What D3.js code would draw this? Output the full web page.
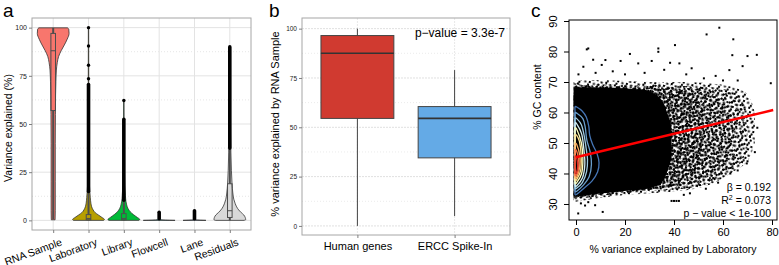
<!DOCTYPE html>
<html>
<head>
<meta charset="utf-8">
<script src="https://cdn.jsdelivr.net/npm/d3@7"></script>
<style>
  body { margin: 0; background: #fff; }
  svg { display: block; font-family: "Liberation Sans", Arial, sans-serif; }
</style>
</head>
<body>
<svg width="779" height="265"></svg>
<script>
// ---------- panel a : violins ----------
const violinCats = ["RNA Sample", "Laboratory", "Library", "Flowcell", "Lane", "Residuals"];
const violinFill = ["#f8766d", "#b79f00", "#00ba38", "#00bfc4", "#619cff", "#d9d9d9"];
// density profile per category: [value, relative half width]
const violinRNA = [[0.3, 0.12], [5, 0.13], [20, 0.13], [40, 0.13], [55, 0.14], [65, 0.15], [72, 0.17], [78, 0.2], [82, 0.26], [85, 0.34], [88, 0.5], [91, 0.7], [94, 0.88], [97, 1.0], [99.2, 0.98], [99.9, 0.9]];
const violinLab = [[0, 0.95], [0.5, 1.0], [1.5, 0.85], [2.8, 0.62], [4, 0.42], [5.4, 0.29], [7, 0.2], [8.9, 0.15], [12, 0.11], [14.2, 0.09], [18, 0.06], [25, 0.04], [35, 0.03], [50, 0.02], [70, 0.015], [100, 0.01]];
const violinLib = [[0, 0.95], [0.5, 1.0], [1.5, 0.85], [3, 0.6], [4.5, 0.4], [6, 0.27], [8, 0.18], [10, 0.13], [13, 0.1], [18, 0.06], [25, 0.04], [35, 0.025], [50, 0.015], [62.2, 0.01]];
const violinFlow = [[0, 1.0], [0.15, 0.4], [0.5, 0.03], [4.2, 0.02]];
const violinLane = [[0, 0.72], [0.15, 0.3], [0.5, 0.03], [5, 0.02]];
const violinRes = [[0, 0.9], [0.4, 1.0], [1.5, 0.97], [2.8, 0.88], [4, 0.72], [5.4, 0.56], [7, 0.43], [8.9, 0.33], [11, 0.25], [14.2, 0.19], [19, 0.14], [26, 0.1], [35, 0.07], [45, 0.05], [60, 0.04], [75, 0.03], [90, 0.02]];
const violinProfiles = [violinRNA, violinLab, violinLib, violinFlow, violinLane, violinRes];

// inner boxplots
const violinBoxLo = [0.5, 0, 0, 0, 0, 0];
const violinBoxQ1 = [57, 0.3, 0.3, 0, 0, 1.5];
const violinBoxMed = [88, 1, 1, 0, 0, 5];
const violinBoxQ3 = [97, 3, 3.5, 0, 0, 19];
const violinBoxHi = [99.9, 15, 10.5, 0, 0, 37.5];
// dense runs of outlier dots [from, to] and single outliers
const outlierRuns = [[], [[15, 70.5]], [[10.5, 52.5]], [[0.8, 4.2]], [[0.8, 5]], [[37.5, 90]]];
const outlierDots = [[], [73.5, 80.5, 90.5, 100], [62.2], [], [], []];
const violinTicks = [0, 25, 50, 75, 100];

// ---------- panel b : boxplots ----------
const boxCats = ["Human genes", "ERCC Spike-In"];
const boxLo = [0, 5];
const boxQ1 = [54.5, 34.5];
const boxMed = [87.5, 54.5];
const boxQ3 = [96.5, 60.5];
const boxHi = [100, 79];
const boxFill = ["#d03a30", "#64aae6"];
const boxTicks = [0, 25, 50, 75, 100];

// ---------- panel c : scatter ----------
// nested outlines of the point cloud (x, lower y, upper y), widest first
const cloud1X = [-1, 15, 30, 45, 55, 63, 70, 73];
const cloud1Low = [30.5, 32.5, 33.5, 34.5, 36.5, 40, 44, 50];
const cloud1High = [70.5, 70.5, 70, 70, 69.5, 68.5, 66, 60];
const cloud2X = [-1, 20, 35, 48, 58, 66, 70];
const cloud2Low = [31.5, 33.5, 34.5, 35.5, 38, 42, 48];
const cloud2High = [69.5, 69, 69, 68.5, 68, 66, 60];
const cloud3X = [-1, 20, 35, 45, 53, 60, 64];
const cloud3Low = [32, 34, 35, 36, 38.5, 42, 47];
const cloud3High = [69, 68.5, 68.5, 68, 67, 64, 58];
const cloud4X = [-1, 20, 32, 40, 47, 52];
const cloud4Low = [32, 34, 35, 36, 38.5, 43];
const cloud4High = [68.8, 68.3, 68, 67.5, 66, 61];
const coreX = [-1, 12, 22, 30, 35, 39];
const coreLow = [32.3, 33.6, 34.4, 35.2, 37, 45];
const coreHigh = [68.3, 68.2, 67.8, 67, 64, 55];
// isolated points
const strayPoints = [[0.7, 24.2], [0.9, 26.9], [3.7, 29.5], [10.9, 27.4], [7.8, 29.6], [2, 30.2], [5, 30.6], [39, 31], [40, 31], [41, 31], [42, 31],
  [4.4, 80.7], [5, 81], [53.3, 85.6], [58.5, 87.8], [64.2, 84], [63.8, 78.8], [70, 78.5], [40.4, 82.1], [33.6, 81], [33.6, 79.9], [22, 79.2],
  [12, 77.2], [7, 77.3], [18.2, 76.9], [30.9, 76.9], [38.4, 76.3], [42.2, 76.1], [47.2, 74.5], [52.2, 71.2], [62.6, 73.9], [68, 75.2],
  [73.8, 78.9], [79.5, 69.6], [3, 75], [10.5, 75.6], [25.4, 76.1], [69.7, 43.3], [64.2, 45.5], [61.5, 42.2], [50.6, 36.2], [46.5, 33.5],
  [73, 47], [71, 52], [66, 41], [56, 38.5], [44, 33], [15, 73.5], [28, 73], [36, 74], [45, 72.5], [57, 72], [20, 72.5], [8, 73], [1, 72.5],
  [60, 70.5], [66, 70.5], [72, 57], [74, 55], [70, 44], [63, 40], [58, 37], [53, 35]];
// density contours near x = 0: [y, right edge x]
const contourLevels = [
  [[33.2, 0.3], [35, 3], [37.5, 6.5], [40.5, 8.8], [43.5, 9.4], [46.5, 8.6], [49.5, 6.8], [52.5, 5.6], [55.5, 5.2], [58.5, 4.2], [60.5, 2.5], [61.8, 0.3]],
  [[34.2, 0.3], [36, 2.8], [39, 5.4], [43, 6.3], [47, 5.8], [51, 4.4], [55, 3.8], [58, 2.8], [59.8, 0.3]],
  [[35.2, 0.3], [37, 2.6], [40.5, 4.3], [44.5, 4.7], [48.5, 4.1], [52.5, 3.3], [56, 2.2], [58, 0.3]],
  [[36, 0.3], [38.5, 2.6], [43, 3.6], [48, 3.2], [53, 2.3], [56.3, 0.3]],
  [[37, 0.3], [40, 2.3], [45, 2.8], [50, 2.2], [54.5, 0.3]],
  [[38, 0.3], [41, 1.9], [46, 2.1], [50.5, 1.4], [52.5, 0.3]],
  [[38.8, 0.3], [42, 1.5], [46, 1.5], [49.5, 0.3]],
  [[39.5, 0.2], [42, 1.1], [45, 1], [47.5, 0.2]],
  [[40.2, 0.15], [42.5, 0.7], [45.5, 0.15]]
];
const contourColors = ["#4575b4", "#6a9fcd", "#9ecae1", "#d1ecf1", "#ffffbf", "#fee090", "#fdae61", "#f46d43", "#d73027"];
const fitX = [0, 80.5];
const fitY = [45.3, 60.8];
const scatterXTicks = [0, 20, 40, 60, 80];
const scatterYTicks = [30, 40, 50, 60, 70, 80, 90];

const svg = d3.select("svg");

// panel letters
svg.selectAll("text.letter")
  .data([["a", 3], ["b", 269], ["c", 531]])
  .join("text")
  .attr("class", "letter")
  .attr("x", d => d[1]).attr("y", 17)
  .attr("font-size", 19)
  .text(d => d[0]);

// ================= panel a =================
const aX = d3.scalePoint().domain(violinCats).range([32, 251]).padding(0.6);
const aY = d3.scaleLinear().domain([-5, 105]).range([230, 18]);
const gA = svg.append("g");
const halfW = aX.step() * 0.45;

// grid
const aMinor = violinTicks.slice(1).map((t, i) => (t + violinTicks[i]) / 2);
gA.selectAll(".minor").data(aMinor).join("line")
  .attr("x1", 32).attr("x2", 251)
  .attr("y1", d => aY(d)).attr("y2", d => aY(d))
  .attr("stroke", "#e6e6e6").attr("stroke-dasharray", "1,2");
gA.selectAll(".major").data(violinTicks).join("line")
  .attr("x1", 32).attr("x2", 251)
  .attr("y1", d => aY(d)).attr("y2", d => aY(d))
  .attr("stroke", "#e3e3e3");
gA.selectAll(".vgrid").data(violinCats).join("line")
  .attr("x1", d => aX(d)).attr("x2", d => aX(d))
  .attr("y1", 18).attr("y2", 230)
  .attr("stroke", "#e3e3e3");

// violins
violinCats.forEach((c, i) => {
  const cx = aX(c);
  const area = d3.area()
    .y(d => aY(d[0]))
    .x0(d => cx - halfW * d[1])
    .x1(d => cx + halfW * d[1])
    .curve(d3.curveMonotoneY);
  gA.append("path")
    .datum(violinProfiles[i])
    .attr("d", area)
    .attr("fill", violinFill[i])
    .attr("stroke", "#333").attr("stroke-width", 0.8);
});

// inner boxplots
const bw = aX.step() * 0.13;
violinCats.forEach((c, i) => {
  const cx = aX(c);
  if (violinBoxHi[i] === violinBoxLo[i]) return;
  gA.append("line").attr("x1", cx).attr("x2", cx)
    .attr("y1", aY(violinBoxLo[i])).attr("y2", aY(violinBoxQ1[i]))
    .attr("stroke", "#4d4d4d").attr("stroke-width", 2);
  gA.append("line").attr("x1", cx).attr("x2", cx)
    .attr("y1", aY(violinBoxQ3[i])).attr("y2", aY(violinBoxHi[i]))
    .attr("stroke", "#4d4d4d").attr("stroke-width", 2);
  gA.append("rect")
    .attr("x", cx - bw / 2).attr("width", bw)
    .attr("y", aY(violinBoxQ3[i])).attr("height", aY(violinBoxQ1[i]) - aY(violinBoxQ3[i]))
    .attr("fill", "none").attr("stroke", "#4d4d4d").attr("stroke-width", 1);
  gA.append("line").attr("x1", cx - bw / 2).attr("x2", cx + bw / 2)
    .attr("y1", aY(violinBoxMed[i])).attr("y2", aY(violinBoxMed[i]))
    .attr("stroke", "#4d4d4d").attr("stroke-width", 1);
});

// outliers
violinCats.forEach((c, i) => {
  const cx = aX(c);
  outlierRuns[i].forEach(r => {
    gA.append("line").attr("x1", cx).attr("x2", cx)
      .attr("y1", aY(r[0])).attr("y2", aY(r[1]))
      .attr("stroke", "#000").attr("stroke-width", 3.6).attr("stroke-linecap", "round");
  });
  gA.selectAll(null).data(outlierDots[i]).join("circle")
    .attr("cx", cx).attr("cy", d => aY(d)).attr("r", 1.7).attr("fill", "#000");
});

gA.append("rect").attr("x", 32).attr("y", 18).attr("width", 219).attr("height", 212)
  .attr("fill", "none").attr("stroke", "#a6a6a6");

// axes
const aAxisL = gA.append("g").attr("transform", "translate(32,0)")
  .call(d3.axisLeft(aY).tickValues(violinTicks).tickSize(3).tickPadding(2));
const aAxisB = gA.append("g").attr("transform", "translate(0,230)")
  .call(d3.axisBottom(aX).tickSize(3));
[aAxisL, aAxisB].forEach(g => {
  g.select(".domain").remove();
  g.selectAll("line").attr("stroke", "#7f7f7f");
});
aAxisL.selectAll("text").attr("font-size", 7).attr("fill", "#222");
aAxisB.selectAll("text")
  .attr("font-size", 10.5).attr("fill", "#000")
  .attr("text-anchor", "end")
  .attr("x", 0).attr("y", 0).attr("dy", 0)
  .attr("transform", "translate(9,15) rotate(-20)");
gA.append("text")
  .attr("transform", "translate(12,128) rotate(-90)")
  .attr("text-anchor", "middle").attr("font-size", 10.5)
  .text("Variance explained (%)");

// ================= panel b =================
const bX = d3.scalePoint().domain(boxCats).range([302, 510]).padding(0.57);
const bY = d3.scaleLinear().domain([-4.6, 105.4]).range([235, 18]);
const gB = svg.append("g");
const bMinor = boxTicks.slice(1).map((t, i) => (t + boxTicks[i]) / 2);

gB.selectAll(".minor").data(bMinor).join("line")
  .attr("x1", 302).attr("x2", 510)
  .attr("y1", d => bY(d)).attr("y2", d => bY(d))
  .attr("stroke", "#ebebeb").attr("stroke-dasharray", "1,2");
gB.selectAll(".major").data(boxTicks).join("line")
  .attr("x1", 302).attr("x2", 510)
  .attr("y1", d => bY(d)).attr("y2", d => bY(d))
  .attr("stroke", "#e0e0e0").attr("stroke-dasharray", "2,1");
gB.selectAll(".vgrid").data(boxCats).join("line")
  .attr("x1", d => bX(d)).attr("x2", d => bX(d))
  .attr("y1", 18).attr("y2", 235)
  .attr("stroke", "#e8e8e8").attr("stroke-dasharray", "2,1");

const boxW = bX.step() * 0.75;
boxCats.forEach((c, i) => {
  const cx = bX(c);
  gB.append("line").attr("x1", cx).attr("x2", cx)
    .attr("y1", bY(boxLo[i])).attr("y2", bY(boxHi[i]))
    .attr("stroke", "#444").attr("stroke-width", 1);
  gB.append("rect")
    .attr("x", cx - boxW / 2).attr("width", boxW)
    .attr("y", bY(boxQ3[i])).attr("height", bY(boxQ1[i]) - bY(boxQ3[i]))
    .attr("fill", boxFill[i]).attr("stroke", "#444").attr("stroke-width", 1);
  gB.append("line").attr("x1", cx - boxW / 2).attr("x2", cx + boxW / 2)
    .attr("y1", bY(boxMed[i])).attr("y2", bY(boxMed[i]))
    .attr("stroke", "#333").attr("stroke-width", 1.6);
});

gB.append("rect").attr("x", 302).attr("y", 18).attr("width", 208).attr("height", 217)
  .attr("fill", "none").attr("stroke", "#a6a6a6");

const bAxisL = gB.append("g").attr("transform", "translate(302,0)")
  .call(d3.axisLeft(bY).tickValues(boxTicks).tickSize(3).tickPadding(2));
const bAxisB = gB.append("g").attr("transform", "translate(0,235)")
  .call(d3.axisBottom(bX).tickSize(3).tickPadding(4));
[bAxisL, bAxisB].forEach(g => {
  g.select(".domain").remove();
  g.selectAll("line").attr("stroke", "#7f7f7f");
});
bAxisL.selectAll("text").attr("font-size", 6.5).attr("fill", "#222");
bAxisB.selectAll("text").attr("font-size", 11).attr("fill", "#000");
gB.append("text")
  .attr("transform", "translate(279,124) rotate(-90)")
  .attr("text-anchor", "middle").attr("font-size", 11)
  .text("% variance explained by RNA Sample");
gB.append("text")
  .attr("x", 505).attr("y", 37)
  .attr("text-anchor", "end").attr("font-size", 12)
  .text("p\u2212value = 3.3e-7");

// ================= panel c =================
const cX = d3.scaleLinear().domain([-2.86, 82.04]).range([569, 777]);
const cY = d3.scaleLinear().domain([24.75, 90.33]).range([220, 20]);
const gC = svg.append("g");
const defs = svg.append("defs");
defs.append("clipPath").attr("id", "clipc")
  .append("rect").attr("x", 569).attr("y", 20).attr("width", 208).attr("height", 200);

// dot textures: each layer is a loose field of points, overlapping layers get denser
const dotLayout = [[0, 0], [4.5, 1], [2, 4], [6.5, 4.6], [1, 6.8]];
const texture = (id, w, h, angle) => {
  const p = defs.append("pattern").attr("id", id)
    .attr("patternUnits", "userSpaceOnUse").attr("width", w).attr("height", h)
    .attr("patternTransform", `rotate(${angle})`);
  dotLayout.forEach(d =>
    p.append("rect").attr("x", d[0]).attr("y", d[1]).attr("width", 2).attr("height", 2).attr("fill", "#000"));
};
texture("dots1", 9, 9, 17);
texture("dots2", 10, 9, 53);
texture("dots3", 9, 10, -29);
texture("dots4", 11, 9.5, 78);

const plotC = gC.append("g").attr("clip-path", "url(#clipc)");
const cloud = (xs, lo, hi, fill) => {
  const area = d3.area()
    .x((d, i) => cX(xs[i]))
    .y0((d, i) => cY(lo[i]))
    .y1((d, i) => cY(hi[i]))
    .curve(d3.curveCatmullRom);
  plotC.append("path").datum(xs).attr("d", area).attr("fill", fill);
};
cloud(cloud1X, cloud1Low, cloud1High, "url(#dots1)");
cloud(cloud2X, cloud2Low, cloud2High, "url(#dots2)");
cloud(cloud3X, cloud3Low, cloud3High, "url(#dots3)");
cloud(cloud4X, cloud4Low, cloud4High, "url(#dots4)");
cloud(coreX, coreLow, coreHigh, "#000");

plotC.selectAll(".stray").data(strayPoints).join("rect")
  .attr("x", d => cX(d[0]) - 1).attr("y", d => cY(d[1]) - 1)
  .attr("width", 2).attr("height", 2).attr("fill", "#000");

// contours: right edge as read, left edge along x = -0.4
const contourLine = d3.line().x(d => cX(d[0])).y(d => cY(d[1])).curve(d3.curveCardinalClosed);
contourLevels.forEach((lvl, i) => {
  const pts = lvl.map(d => [d[1], d[0]]).concat(lvl.slice().reverse().map(d => [-0.4, d[0]]));
  plotC.append("path").attr("d", contourLine(pts))
    .attr("fill", "none").attr("stroke", contourColors[i]).attr("stroke-width", 1.3);
});

plotC.append("path")
  .datum(fitX.map((x, i) => [x, fitY[i]]))
  .attr("d", d3.line().x(d => cX(d[0])).y(d => cY(d[1])))
  .attr("stroke", "#ff0000").attr("stroke-width", 2.6).attr("fill", "none");

gC.append("rect").attr("x", 569).attr("y", 20).attr("width", 208).attr("height", 200)
  .attr("fill", "none").attr("stroke", "#000");

const cAxisB = gC.append("g").attr("transform", "translate(0,220)")
  .call(d3.axisBottom(cX).tickValues(scatterXTicks).tickSize(5).tickPadding(3));
const cAxisL = gC.append("g").attr("transform", "translate(569,0)")
  .call(d3.axisLeft(cY).tickValues(scatterYTicks).tickSize(5));
[cAxisB, cAxisL].forEach(g => {
  g.select(".domain").remove();
  g.selectAll("text").attr("font-size", 11).attr("fill", "#000");
});
cAxisL.selectAll("text")
  .attr("x", 0).attr("y", 0).attr("dy", 0)
  .attr("text-anchor", "middle")
  .attr("transform", "translate(-12,0) rotate(-90)");
gC.append("text")
  .attr("x", 673).attr("y", 253)
  .attr("text-anchor", "middle").attr("font-size", 10.5)
  .text("% variance explained by Laboratory");
gC.append("text")
  .attr("transform", "translate(541,97) rotate(-90)")
  .attr("text-anchor", "middle").attr("font-size", 10.5)
  .text("% GC content");

// fit statistics
const stats = gC.append("g").attr("font-size", 10.5).attr("text-anchor", "end");
stats.append("text").attr("x", 771).attr("y", 191).text("\u03b2 = 0.192");
const r2 = stats.append("text").attr("x", 771).attr("y", 204);
r2.append("tspan").text("R");
r2.append("tspan").attr("font-size", 7).attr("dy", -4).text("2");
r2.append("tspan").attr("dy", 4).text(" = 0.073");
stats.append("text").attr("x", 771).attr("y", 217).text("p \u2212 value < 1e-100");
</script>
</body>
</html>
